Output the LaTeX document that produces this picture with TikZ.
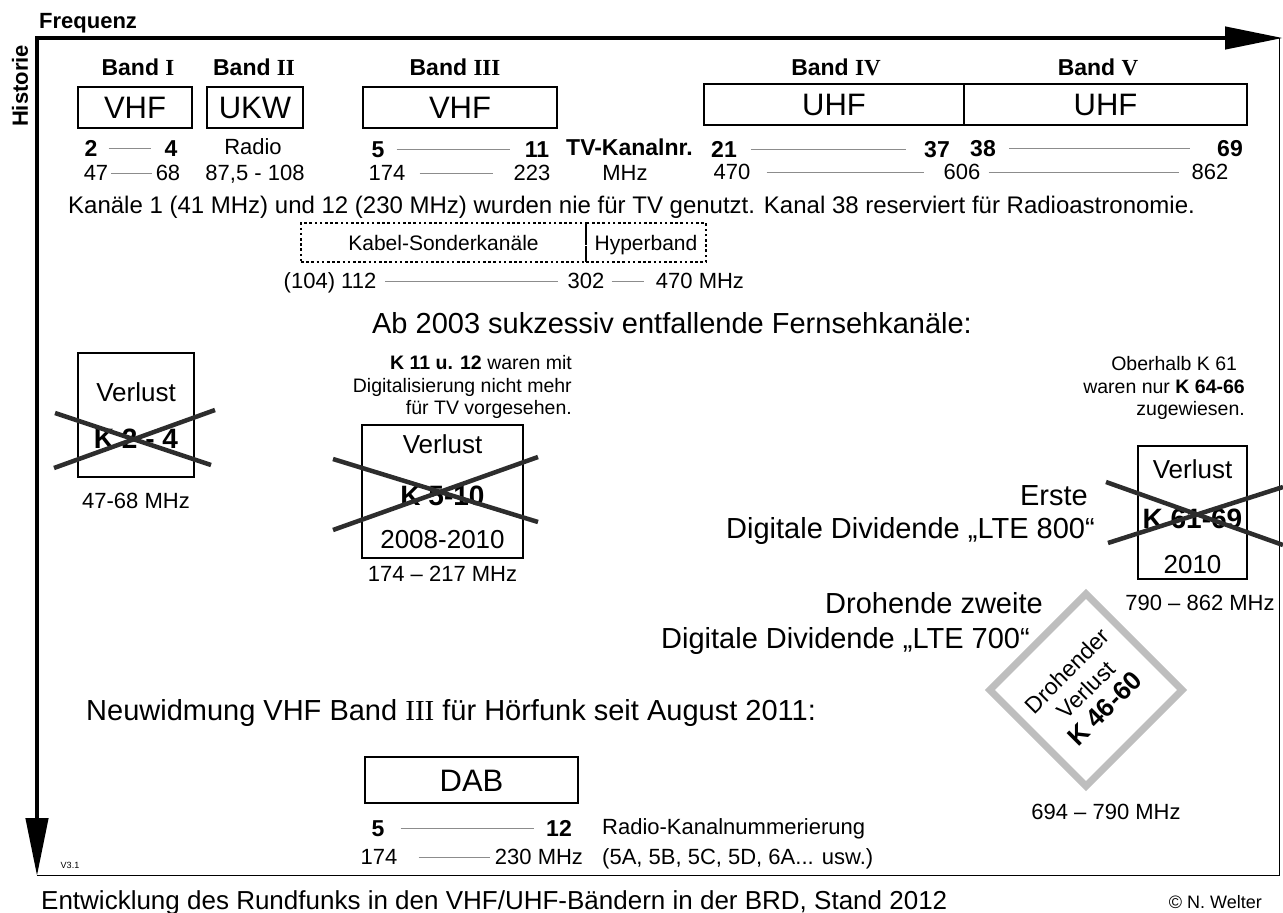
\documentclass[tikz,border=0pt]{standalone}
\usepackage{fontspec}
\setmainfont{Liberation Sans}
\newfontfamily\romfont{Liberation Serif}
\usetikzlibrary{arrows.meta, positioning, calc}
\definecolor{crossgray}{RGB}{45,45,45}
\definecolor{spangray}{RGB}{140,140,140}
\definecolor{diagray}{RGB}{190,190,190}
\newcommand{\fs}[2]{\fontsize{#1}{#2}\selectfont}
\newcommand{\rom}[1]{{\romfont #1}}

\begin{document}
\begin{tikzpicture}[
    x=1pt, y=-1pt,
    every node/.style={inner sep=0pt},
    capsize/.style={text height=#1, text depth=0pt},
    txt/.style={font=\fs{22}{26}, capsize=15.8pt},
    num/.style={font=\fs{23}{26}\bfseries, capsize=16.5pt},
    band/.style={font=\fs{23}{26}\bfseries, capsize=16.5pt},
    bandbox/.style={draw, line width=1.8pt, minimum height=41pt, font=\fs{31}{34}, capsize=22.3pt},
    cablebox/.style={draw, line width=2.2pt, dash pattern=on 2.6pt off 2.6pt, minimum height=39pt, font=\fs{21}{24}, capsize=15.1pt},
    lossbox/.style={draw, line width=1.8pt},
    losstxt/.style={font=\fs{26}{28}, capsize=18.7pt},
    lossnr/.style={font=\fs{28}{30}\bfseries, capsize=20.1pt},
    span/.style={draw=spangray, line width=0.9pt},
    cross/.style={crossgray, line width=4.5pt},
    axis/.style={line width=4.5pt, {Triangle[length=58pt, width=22pt]}-{Triangle[length=58pt, width=22pt]}},
    note/.style={align=right, font=\fs{19.5}{22.5}},
    big/.style={font=\fs{29}{33}, capsize=20.8pt}
]
    \useasboundingbox (0,0) rectangle (1283,913);

    % Axes and frame
    \coordinate (origin) at (37,38);
    \coordinate (freqtip) at (1283,38);
    \coordinate (histtip) at (37,876);
    \coordinate (frameTR) at (1279,38);
    \coordinate (frameBR) at (1279,875);
    \coordinate (frameBL) at (37,875);
    \draw[line width=1pt] (frameTR) -- (frameBR) -- (frameBL);
    \draw[axis] (freqtip) -- (origin) -- (histtip);
    \node[font=\fs{22}{24}\bfseries, capsize=15.8pt, anchor=west] (frequenz) at (39,21) {Frequenz};
    \node[font=\fs{22}{24}\bfseries, rotate=90] (historie) at (20,86) {Historie};

    % Bands
    \node[band] (bandI) at (138,67) {Band \rom{I}};
    \node[band] (bandII) at (254,67) {Band \rom{II}};
    \node[band] (bandIII) at (455,67) {Band \rom{III}};
    \node[band] (bandIV) at (836,67) {Band \rom{IV}};
    \node[band] (bandV) at (1098,67) {Band \rom{V}};
    \node[bandbox, minimum width=114pt] (vhfI) at (135,107.5) {VHF};
    \node[bandbox, minimum width=96pt] (ukw) at (255,107.5) {UKW};
    \node[bandbox, minimum width=194pt] (vhfIII) at (460,107.5) {VHF};
    \node[bandbox, minimum width=260pt] (uhfIV) at (834,104.5) {UHF};
    \node[bandbox, minimum width=283pt] (uhfV) at (1105.5,104.5) {UHF};

    % Channel numbers
    \node[num] (k2) at (91,148) {2};
    \node[num] (k4) at (171,148) {4};
    \node[txt] (radio) at (253,147) {Radio};
    \node[num] (k5) at (378,149) {5};
    \node[num] (k11) at (537,149) {11};
    \node[num, anchor=west] (tvnr) at (566,147) {TV-Kanalnr.};
    \node[num] (k21) at (724,149) {21};
    \node[num] (k37) at (937,149) {37};
    \node[num] (k38) at (983,148) {38};
    \node[num] (k69) at (1230,148) {69};
    \draw[span, shorten <=11pt, shorten >=13pt] (k2) -- (k4);
    \draw[span, shorten <=12pt, shorten >=15pt] (k5) -- (k11);
    \draw[span, shorten <=14pt, shorten >=18pt] (k21) -- (k37);
    \draw[span, shorten <=13pt, shorten >=27pt] (k38) -- (k69);

    % Frequencies
    \node[txt] (f47) at (96,173) {47};
    \node[txt] (f68) at (168,173) {68};
    \node[txt] (fukw) at (255,173) {87,5 - 108};
    \node[txt] (f174) at (387,173) {174};
    \node[txt] (f223) at (532,173) {223};
    \node[txt] (mhz) at (625,173) {MHz};
    \node[txt] (f470) at (732,172) {470};
    \node[txt] (f606) at (962,172) {606};
    \node[txt] (f862) at (1210,172) {862};
    \draw[span, shorten <=3pt, shorten >=4pt] (f47) -- (f68);
    \draw[span, shorten <=14pt, shorten >=20pt] (f174) -- (f223);
    \draw[span, shorten <=16pt, shorten >=19pt] (f470) -- (f606);
    \draw[span, shorten <=8pt, shorten >=12pt] (f606) -- (f862);

    \node[font=\fs{24}{26}, capsize=17.2pt, anchor=west] (nie) at (68,205) {Kanäle 1 (41 MHz) und 12 (230 MHz) wurden nie für TV genutzt. Kanal 38 reserviert für Radioastronomie.};

    % Cable channels
    \node[cablebox, minimum width=285pt] (kabel) at (443.5,242.5) {Kabel-Sonderkanäle};
    \node[cablebox, minimum width=120pt] (hyper) at (646,242.5) {Hyperband};
    \node[txt] (f112) at (330,281) {(104) 112};
    \node[txt] (f302) at (586,281) {302};
    \node[txt] (f470b) at (700,281) {470 MHz};
    \draw[span, shorten <=9pt, shorten >=9pt] (f112) -- (f302);
    \draw[span, shorten <=7pt, shorten >=12pt] (f302) -- (f470b);

    \node[big] (ab2003) at (672,323) {Ab 2003 sukzessiv entfallende Fernsehkanäle:};

    % Loss K 2-4
    \node[lossbox, minimum width=116pt, minimum height=124pt] (loss1) at (136,415) {};
    \node[losstxt] (loss1a) at (136,392) {Verlust};
    \node[lossnr] (loss1b) at (136,438) {K 2 - 4};
    \draw[cross] (55,413) -- (211,465);
    \draw[cross] (54,468) -- (215,410);
    \node[txt, below=15pt of loss1] (loss1f) {47-68 MHz};

    % Loss K 5-10
    \node[note, anchor=east] (note1) at (572,387) {\textbf{K 11 u. 12} waren mit\\Digitalisierung nicht mehr\\für TV vorgesehen.};
    \node[lossbox, minimum width=161pt, minimum height=133pt] (loss2) at (442.5,491.5) {};
    \node[losstxt] (loss2a) at (442.5,444) {Verlust};
    \node[lossnr] (loss2b) at (442.5,495) {K 5-10};
    \node[losstxt] (loss2c) at (442.5,539) {2008-2010};
    \draw[cross] (333,459) -- (538,522);
    \draw[cross] (333,530) -- (538,457);
    \node[txt, below=7pt of loss2] (loss2f) {174 – 217 MHz};

    % Loss K 61-69
    \node[note, anchor=east] (note2) at (1245,388) {Oberhalb K 61\hspace*{0.4em}\\waren nur \textbf{K 64-66}\\zugewiesen.};
    \node[lossbox, minimum width=109pt, minimum height=133pt] (loss3) at (1192.5,512.5) {};
    \node[losstxt] (loss3a) at (1192.5,469) {Verlust};
    \node[lossnr] (loss3b) at (1192.5,518) {K 61-69};
    \node[losstxt] (loss3c) at (1192.5,564) {2010};
    \draw[cross] (1106,482) -- (1283,545);
    \draw[cross] (1108,543) -- (1283,487);
    \node[txt] (loss3f) at (1200,603) {790 – 862 MHz};
    \node[big, anchor=east] (erste) at (1088,495) {Erste};
    \node[big, anchor=east] (lte800) at (1095,528) {Digitale Dividende „LTE 800“};

    % Threatened K 46-60
    \node[big, anchor=east] (zweite) at (1043,603) {Drohende zweite};
    \node[big, anchor=east] (lte700) at (1030,638) {Digitale Dividende „LTE 700“};
    \node[draw=diagray, line width=7pt, rotate=45, minimum width=136pt, minimum height=136pt,
          align=center, font=\fs{23}{27}] (threat) at (1086,690) {Drohender\\Verlust\\{\fs{26}{28}\bfseries K 46-60}};
    \node[txt] (threatf) at (1106,812) {694 – 790 MHz};

    % DAB
    \node[big, anchor=west] (neu) at (86,710) {Neuwidmung VHF Band \rom{III} für Hörfunk seit August 2011:};
    \node[bandbox, minimum width=213pt, minimum height=46pt] (dab) at (471.5,780) {DAB};
    \node[num] (d5) at (378,828) {5};
    \node[num] (d12) at (559,828) {12};
    \node[txt, anchor=west] (radionr) at (602,827) {Radio-Kanalnummerierung};
    \node[txt] (d174) at (379,857) {174};
    \node[txt] (d230) at (539,857) {230 MHz};
    \node[txt, anchor=west] (radioex) at (602,857) {(5A, 5B, 5C, 5D, 6A... usw.)};
    \draw[span, shorten <=16pt, shorten >=12pt] (d5) -- (d12);
    \draw[span, shorten <=21pt, shorten >=5pt] (d174) -- (d230);

    % Footer
    \node[font=\fs{9}{10}] (version) at (70,865) {V3.1};
    \node[font=\fs{26}{28}, capsize=18.7pt, anchor=west] (caption) at (41,900) {Entwicklung des Rundfunks in den VHF/UHF-Bändern in der BRD, Stand 2012};
    \node[font=\fs{18}{20}, capsize=13pt, anchor=east] (author) at (1262,902) {© N. Welter};
\end{tikzpicture}
\end{document}
